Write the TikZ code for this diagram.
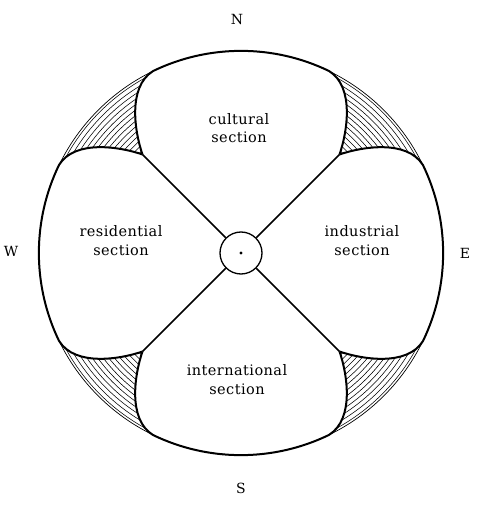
\documentclass[tikz,border=0pt]{standalone}
\usepackage{fontspec}
\newfontfamily\labelfont{DejaVu Serif}
\begin{document}
\begin{tikzpicture}[x=1pt,y=1pt,
  petal/.style={line width=2pt, line join=round},
  thinarc/.style={line width=0.7pt},
  spoke/.style={line width=1.5pt},
  hatchline/.style={line width=0.55pt},
  lab/.style={font=\labelfont\fontsize{14.5}{18.5}\selectfont\addfontfeatures{LetterSpace=3}, align=center, inner sep=0pt},
  dirlab/.style={font=\labelfont\fontsize{14}{16}\selectfont, inner sep=0pt}]
\useasboundingbox (-241,-255) rectangle (238,253);
% hatched regions between petals
\foreach \a in {0,90,180,270}{
  \begin{scope}[rotate=\a]
    \begin{scope}
      \clip (-98.5,98.5) .. controls (-106,120) and (-114,166) .. (-88,182)
        arc[start angle=115.8, end angle=154.2, radius=202]
        .. controls (-166,114) and (-120,106) .. (-98.5,98.5) -- cycle;
      \foreach \r in {138,142.4,...,206}{
        \draw[hatchline] (0,0) circle[radius=\r];
      }
    \end{scope}
  \end{scope}
}
% outer circle (thin)
\draw[thinarc] (0,0) circle[radius=202];
% petals
\foreach \a in {0,90,180,270}{
  \begin{scope}[rotate=\a]
    \draw[petal] (98.5,98.5) .. controls (106,120) and (114,166) .. (88,182)
      arc[start angle=64.2, end angle=115.8, radius=202]
      .. controls (-114,166) and (-106,120) .. (-98.5,98.5);
  \end{scope}
}
% hub
\node[draw, circle, line width=1.3pt, minimum size=42pt, inner sep=0pt] (hub) at (0,0) {};
\fill (hub.center) circle[radius=1.7];
\coordinate (cNE) at (45:139.3);
\coordinate (cNW) at (135:139.3);
\coordinate (cSW) at (225:139.3);
\coordinate (cSE) at (315:139.3);
\draw[spoke] (hub) -- (cNE);
\draw[spoke] (hub) -- (cNW);
\draw[spoke] (hub) -- (cSW);
\draw[spoke] (hub) -- (cSE);
% labels
\node[lab] (cult) at (-2,125) {cultural\\section};
\node[lab] (resi) at (-120,12.5) {residential\\section};
\node[lab] (indu) at (121,12.5) {industrial\\section};
\node[lab] (intl) at (-4,-126.5) {international\\section};
\node[dirlab] (N) at (-4,233) {N};
\node[dirlab] (S) at (0,-235) {S};
\node[dirlab] (W) at (-230,2) {W};
\node[dirlab] (E) at (224,0) {E};
\end{tikzpicture}
\end{document}
